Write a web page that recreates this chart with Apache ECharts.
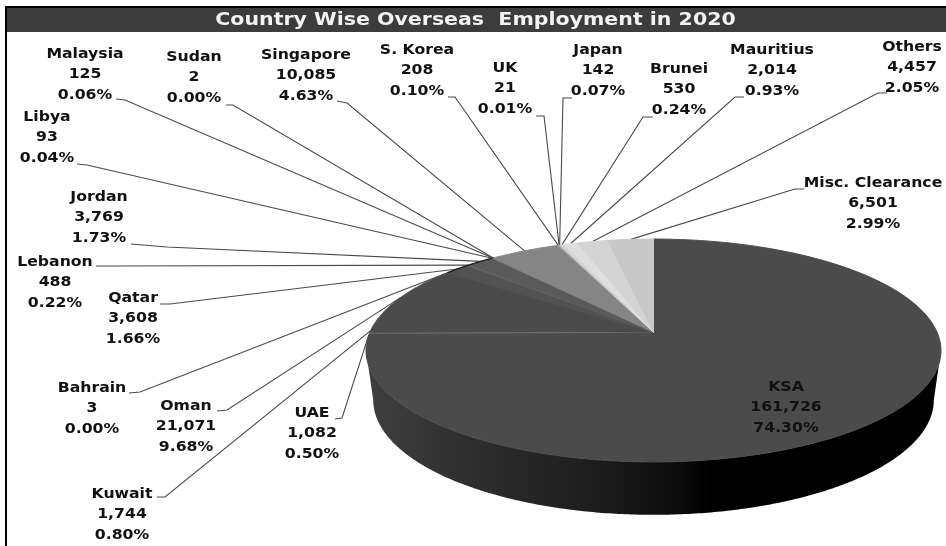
<!DOCTYPE html>
<html>
<head>
<meta charset="utf-8">
<style>html,body{margin:0;padding:0;background:#fff}#chart{width:946px;height:546px}</style>
<script src="https://cdn.jsdelivr.net/npm/echarts@6/dist/echarts.min.js"></script>
</head>
<body>
<div id="chart"></div>
<script>
// Slices run clockwise from twelve o'clock.
var countries = ['KSA','UAE','Kuwait','Oman','Bahrain','Qatar','Lebanon','Jordan','Libya','Malaysia','Sudan','Singapore','S. Korea','UK','Japan','Brunei','Mauritius','Others','Misc. Clearance'];
var employment = [161726,1082,1744,21071,3,3608,488,3769,93,125,2,10085,208,21,142,530,2014,4457,6501];
var sliceColors = ['#4b4b4b','#4b4b4b','#4b4b4b','#4b4b4b','#555555','#525252','#626262','#5a5a5a','#6c6c6c','#707070','#757575','#858585','#9a9a9a','#adadad','#bebebe','#d2d2d2','#dedede','#d4d4d4','#c8c8c8'];
var darkRim = ['Bahrain','Qatar','Lebanon','Jordan','Libya','Malaysia','Sudan'];
var chartTitle = 'Country Wise Overseas  Employment in 2020';

// Label centre x, first line y, then the two elbow points of the leader.
var labelPlacement = [
  [786,387],
  [312,413,335,419,342,418],
  [122,494,157,497,165,497],
  [186,406,217,411,227,410],
  [92,388,129,393,140,392],
  [133,298,160,304,170,304],
  [55,262,96,266,110,266],
  [99,197,131,244,167,247],
  [47,117,77,164,87,165],
  [85,54,116,99,125,100],
  [194,57,226,105,233,105],
  [306,55,337,101,347,103],
  [417,50,448,97,455,97],
  [505,68,536,116,544,116],
  [598,50,572,98,563,98],
  [679,69,653,117,643,117],
  [772,50,744,97,735,97],
  [912,47,887,93,878,93],
  [873,183,804,189,795,189]
];

var total = employment.reduce(function (a, b) { return a + b; }, 0);
var startShares = [];
employment.reduce(function (acc, v, i) { startShares[i] = acc; return acc + v; }, 0);

// Tilted-disc projection: a unit circle seen in perspective.
var CX = 653.5, CY = 332, AX = 283.5, BY = 108.4, TILT = 0.166;
var WALL_CX = 654, WALL_RX = 0.975, RIM_CY = 350.5, WALL_CY = 400, WALL_RY = 1.03;

function rimPoint(theta) {
  var u = Math.sin(theta), v = Math.cos(theta), w = 1 + TILT * v;
  return [CX + AX * u / w, CY - BY * v / w];
}
function wallPoint(theta) {
  var p = rimPoint(theta);
  return [WALL_CX + (p[0] - WALL_CX) * WALL_RX, WALL_CY + (p[1] - RIM_CY) * WALL_RY];
}
function angleOf(share) { return share / total * Math.PI * 2; }
function arcThetas(a0, a1) {
  var n = Math.max(2, Math.ceil((a1 - a0) / 0.01)), out = [];
  for (var i = 0; i <= n; i++) out.push(a0 + (a1 - a0) * i / n);
  return out;
}

var WALL_FROM = Math.acos(-TILT), WALL_TO = Math.PI * 2 - WALL_FROM;
var wallFill = new echarts.graphic.LinearGradient(373, 0, 935, 0, [
  { offset: 0, color: '#3e3e3e' },
  { offset: 0.2, color: '#2c2c2c' },
  { offset: 0.42, color: '#1b1b1b' },
  { offset: 0.55, color: '#0a0a0a' },
  { offset: 0.6, color: '#000000' },
  { offset: 1, color: '#000000' }
], true);

function renderSlice(params, api) {
  var i = params.dataIndex;
  var a0 = angleOf(startShares[i]);
  var a1 = angleOf(startShares[i] + api.value(0));
  var children = [];
  var w0 = Math.max(a0, WALL_FROM), w1 = Math.min(a1, WALL_TO);
  if (w1 > w0) {
    var front = arcThetas(w0, w1);
    var wallPts = front.map(rimPoint).concat(front.slice().reverse().map(wallPoint));
    children.push({ type: 'polygon', shape: { points: wallPts }, style: { fill: wallFill } });
  }
  var arc = arcThetas(a0, a1);
  var face = [[CX, CY]].concat(arc.map(rimPoint));
  children.push({ type: 'polygon', shape: { points: face },
    style: { fill: sliceColors[i], stroke: sliceColors[i], lineWidth: 1 } });
  if (countries[i] === 'Kuwait') {
    var edge = rimPoint(a0);
    children.push({ type: 'line', shape: { x1: CX, y1: CY, x2: edge[0], y2: edge[1] },
      style: { stroke: '#6a6a6a', lineWidth: 1.4 } });
  }
  if (darkRim.indexOf(countries[i]) >= 0) {
    children.push({ type: 'polyline', shape: { points: arc.map(rimPoint) },
      style: { stroke: '#1c1c1c', lineWidth: 1.3, fill: null } });
  }
  return { type: 'group', children: children };
}

function renderLeader(params, api) {
  var i = params.dataIndex, p = labelPlacement[i];
  if (p.length < 6) return { type: 'group', children: [] };
  var end = rimPoint(angleOf(startShares[i] + api.value(0) / 2));
  return { type: 'polyline', shape: { points: [[p[2], p[3]], [p[4], p[5]], end] },
    style: { stroke: '#4a4a4a', lineWidth: 1.1, fill: null } };
}

var LINE_GAP = 20.6;
function renderLabel(params, api) {
  var i = params.dataIndex, p = labelPlacement[i], v = api.value(0);
  var lines = [countries[i], v.toLocaleString('en-US'), (v / total * 100).toFixed(2) + '%'];
  return { type: 'group', children: lines.map(function (t, n) {
    return { type: 'text', x: p[0], y: p[1] + n * LINE_GAP, scaleX: 1.12,
      style: { text: t, align: 'center', verticalAlign: 'middle', fill: '#111111', font: 'bold 14px "DejaVu Sans"' } };
  }) };
}

var seriesData = employment.map(function (v) { return [v]; });
var chart = echarts.init(document.getElementById('chart'), null, { renderer: 'canvas' });
chart.setOption({
  animation: false,
  backgroundColor: '#ffffff',
  graphic: [
    { type: 'rect', shape: { x: 5, y: 8, width: 941, height: 24 }, style: { fill: '#3c3c3c' }, z: 0 },
    { type: 'rect', shape: { x: 5, y: 6, width: 941, height: 2 }, style: { fill: '#000000' }, z: 0 },
    { type: 'rect', shape: { x: 5, y: 6, width: 2, height: 540 }, style: { fill: '#000000' }, z: 0 },
    { type: 'text', x: 475.5, y: 20, scaleX: 1.14, z: 1,
      style: { text: chartTitle, align: 'center', verticalAlign: 'middle', fill: '#f2f2f2', font: 'bold 18px "DejaVu Sans"' } }
  ],
  series: [
    { type: 'custom', coordinateSystem: 'none', z: 1, silent: true, data: seriesData, renderItem: renderLeader },
    { type: 'custom', coordinateSystem: 'none', z: 2, silent: true, data: seriesData, renderItem: renderSlice },
    { type: 'custom', coordinateSystem: 'none', z: 3, silent: true, data: seriesData, renderItem: renderLabel }
  ]
});
</script>
</body>
</html>
